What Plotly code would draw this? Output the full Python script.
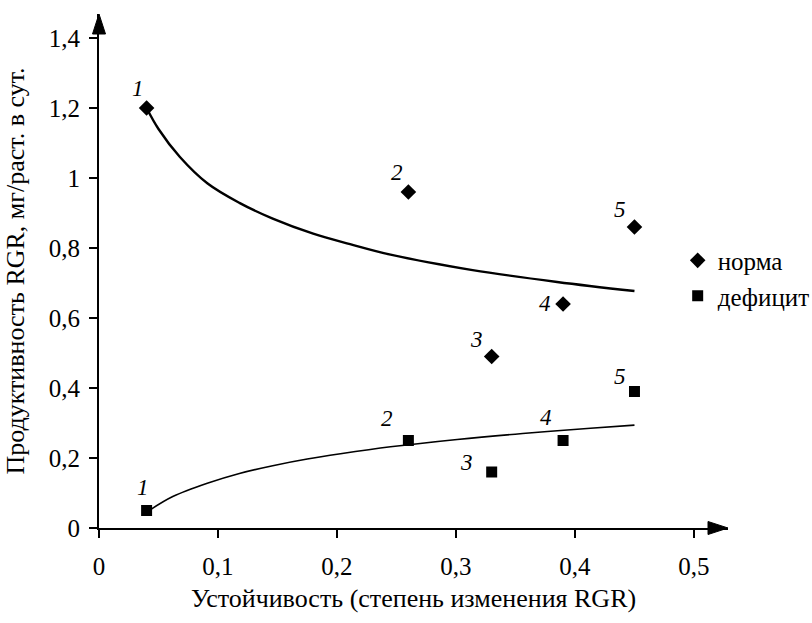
import plotly.graph_objects as go

# ---- data ----
variety_labels = ["1", "2", "3", "4", "5"]
x_stability = [0.04, 0.26, 0.33, 0.39, 0.45]
y_norma = [1.20, 0.96, 0.49, 0.64, 0.86]
y_deficit = [0.05, 0.25, 0.16, 0.25, 0.39]

# trend curves
trend_norma_x = [0.040, 0.050, 0.068, 0.091, 0.118, 0.146, 0.180, 0.211, 0.245, 0.314, 0.385, 0.450]
trend_norma_y = [1.200, 1.140, 1.060, 0.985, 0.929, 0.884, 0.841, 0.811, 0.781, 0.737, 0.703, 0.677]
trend_def_x = [0.043, 0.062, 0.091, 0.118, 0.146, 0.175, 0.203, 0.245, 0.301, 0.356, 0.413, 0.450]
trend_def_y = [0.052, 0.090, 0.128, 0.156, 0.178, 0.197, 0.212, 0.232, 0.253, 0.270, 0.285, 0.294]

x_ticks = [0, 0.1, 0.2, 0.3, 0.4, 0.5]
x_ticktext = ["0", "0,1", "0,2", "0,3", "0,4", "0,5"]
y_ticks = [0, 0.2, 0.4, 0.6, 0.8, 1.0, 1.2, 1.4]
y_ticktext = ["0", "0,2", "0,4", "0,6", "0,8", "1", "1,2", "1,4"]

series_names = ["норма", "дефицит"]
x_title = "Устойчивость (степень изменения RGR)"
y_title = "Продуктивность RGR, мг/раст. в сут."

FONT = "Liberation Serif"
FS = 25

fig = go.Figure()
fig.add_trace(go.Scatter(x=trend_norma_x, y=trend_norma_y, mode="lines",
                         line=dict(color="black", width=2.4, shape="spline", smoothing=1),
                         showlegend=False, hoverinfo="skip"))
fig.add_trace(go.Scatter(x=trend_def_x, y=trend_def_y, mode="lines",
                         line=dict(color="black", width=1.6, shape="spline", smoothing=1),
                         showlegend=False, hoverinfo="skip"))
fig.add_trace(go.Scatter(x=x_stability, y=y_norma, mode="markers", name=series_names[0],
                         marker=dict(symbol="diamond", size=12, color="black"),
                         cliponaxis=False))
fig.add_trace(go.Scatter(x=x_stability, y=y_deficit, mode="markers", name=series_names[1],
                         marker=dict(symbol="square", size=11, color="black"),
                         cliponaxis=False))

# point labels
norma_offsets = [(-9, 20), (-11, 20), (-15, 17), (-18, 1), (-14, 18)]
def_offsets = [(-4, 23), (-21, 22), (-25, 10), (-17, 23), (-14, 15)]
for lab, xv, yv, (dx, dy) in zip(variety_labels, x_stability, y_norma, norma_offsets):
    fig.add_annotation(x=xv, y=yv, text="<i>%s</i>" % lab, showarrow=False,
                       xshift=dx, yshift=dy, font=dict(family=FONT, size=23, color="black"))
for lab, xv, yv, (dx, dy) in zip(variety_labels, x_stability, y_deficit, def_offsets):
    fig.add_annotation(x=xv, y=yv, text="<i>%s</i>" % lab, showarrow=False,
                       xshift=dx, yshift=dy, font=dict(family=FONT, size=23, color="black"))

x_max = 0.5286
y_max = 1.4686

# arrow heads on the axes (paper refs so they are not clipped)
fig.add_shape(type="path", xref="paper", yref="paper", xsizemode="pixel", ysizemode="pixel",
              xanchor=1, yanchor=0, path="M -20,-6.5 L 0,0 L -20,6.5 Z",
              fillcolor="black", line=dict(color="black", width=1))
fig.add_shape(type="path", xref="paper", yref="paper", xsizemode="pixel", ysizemode="pixel",
              xanchor=0, yanchor=1, path="M -6.5,-20 L 0,0 L 6.5,-20 Z",
              fillcolor="black", line=dict(color="black", width=1))

fig.update_layout(
    width=812, height=623,
    margin=dict(l=99, r=84, t=14, b=95, autoexpand=False),
    paper_bgcolor="white", plot_bgcolor="white",
    font=dict(family=FONT, size=FS, color="black"),
    legend=dict(x=0.92, y=0.565, xanchor="left", yanchor="top",
                font=dict(family=FONT, size=FS, color="black"),
                bgcolor="rgba(0,0,0,0)", itemwidth=30, tracegroupgap=0),
    xaxis=dict(range=[0, x_max], tickvals=x_ticks, ticktext=x_ticktext,
               showgrid=False, zeroline=False, showline=True, linecolor="black", linewidth=2,
               ticks="outside", ticklen=8, tickwidth=1.5, tickcolor="black",
               tickfont=dict(family=FONT, size=FS),
               ticklabelstandoff=7,
               title=dict(text=x_title, standoff=10, font=dict(family=FONT, size=26))),
    yaxis=dict(range=[0, y_max], tickvals=y_ticks, ticktext=y_ticktext,
               showgrid=False, zeroline=False, showline=True, linecolor="black", linewidth=2,
               ticks="outside", ticklen=8, tickwidth=1.5, tickcolor="black",
               tickfont=dict(family=FONT, size=FS),
               ticklabelstandoff=4,
               title=dict(text=y_title, standoff=17, font=dict(family=FONT, size=26))),
)

fig.write_html("out.html")
